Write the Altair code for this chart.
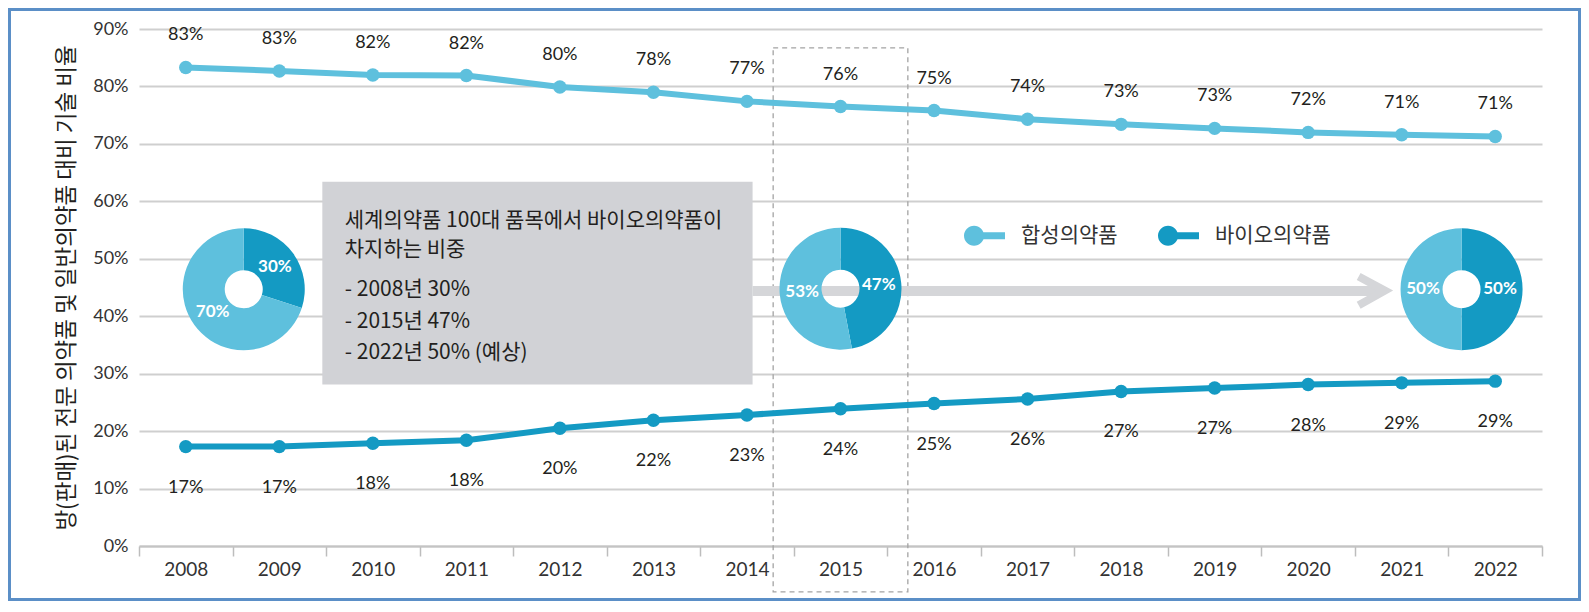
import math
import altair as alt
import pandas as pd

# ---------------- data ----------------
years = list(range(2008, 2023))
synthetic = [83.3, 82.7, 82.0, 81.9, 79.9, 79.0, 77.4, 76.5, 75.8, 74.3, 73.4, 72.7, 72.0, 71.6, 71.3]
bio = [17.3, 17.3, 17.9, 18.4, 20.5, 21.9, 22.8, 23.9, 24.8, 25.6, 26.9, 27.5, 28.1, 28.4, 28.7]
synthetic_labels = ["83%", "83%", "82%", "82%", "80%", "78%", "77%", "76%", "75%", "74%", "73%", "73%", "72%", "71%", "71%"]
bio_labels = ["17%", "17%", "18%", "18%", "20%", "22%", "23%", "24%", "25%", "26%", "27%", "27%", "28%", "29%", "29%"]
series_names = ["합성의약품", "바이오의약품"]
series_colors = ["#5EC0DD", "#149AC3"]

# donut charts: share of bio drugs among top-100 medicines
pie_names = ["2008", "2015", "2022"]
pie_center_year = [2008.62, 2015.0, 2021.64]
pie_center_value = [44.7, 44.8, 44.7]
pie_bio_share = [30, 47, 50]

# annotation box
box_lines = ["세계의약품 100대 품목에서 바이오의약품이", "차지하는 비중",
             "- 2008년 30%", "- 2015년 47%", "- 2022년 50% (예상)"]
box_line_value = [56.5, 51.6, 44.6, 39.0, 33.6]
box_text_year = 2009.7
box_year_range = [2009.46, 2014.06]
box_value_range = [63.4, 28.1]

arrow_year_range = [2014.06, 2020.77]
arrow_value = 44.4
chevron_year = [2020.54, 2020.82, 2020.54]
chevron_value = [46.9, 44.45, 41.9]

highlight_year_range = [2014.28, 2015.72]
highlight_value_range = [86.7, -8.0]

y_title = "방(판매)된 전문 의약품 및 일반의약품 대비 기술 비율"

# ---------------- layout ----------------
W, H = 1403, 517
PX_PER_YEAR = W / 15.0
PX_PER_PCT = H / 90.0
KFONT = "Noto Sans CJK KR"
NFONT = "Lato"
TEXT_COLOR = "#231F20"

x_scale = alt.Scale(domain=[2007.5, 2022.5], nice=False, zero=False)
y_scale = alt.Scale(domain=[0, 90], nice=False, zero=False)
color_scale = alt.Scale(domain=series_names, range=series_colors)

x_axis = alt.Axis(
    values=[2007.5 + i for i in range(16)],
    labelExpr="datum.value > 2022 ? '' : format(datum.value + 0.5, 'd')",
    labelOffset=PX_PER_YEAR / 2, labelFlush=False, labelOverlap=False,
    grid=False, domainColor="#C4C4C4", domainWidth=2,
    tickColor="#BDBDBD", tickSize=10, tickWidth=1.5,
    labelFont=NFONT, labelFontSize=19, labelColor="#333333", labelPadding=4,
    title=None,
)
y_axis = alt.Axis(
    values=list(range(0, 100, 10)), labelExpr="datum.value + '%'",
    grid=True, gridColor="#CFCFCF", gridWidth=2, domain=False, ticks=False,
    labelFont=NFONT, labelFontSize=18, labelColor="#333333", labelPadding=11,
    title=y_title, titleFont=KFONT, titleFontSize=22.5, titleFontWeight="normal",
    titleColor=TEXT_COLOR, titlePadding=14,
)

legend_path = ("M-1,0A0.49,0.49 0 1,1 -0.02,0A0.49,0.49 0 1,1 -1,0Z "
               "M-0.51,-0.17L1,-0.17L1,0.17L-0.51,0.17Z")
legend = alt.Legend(
    orient="none", legendX=825, legendY=186, direction="horizontal",
    title=None, symbolType=legend_path, symbolSize=1681, symbolStrokeWidth=0,
    labelFont=KFONT, labelFontSize=21, labelColor="#333333",
    labelOffset=16, columnPadding=40, padding=0,
)

# ---------------- tables ----------------
df_lines = pd.DataFrame({
    "year": years * 2,
    "value": synthetic + bio,
    "series": [series_names[0]] * len(years) + [series_names[1]] * len(years),
    "label": synthetic_labels + bio_labels,
})

pie_rows = []
for name, cx, cy, b in zip(pie_names, pie_center_year, pie_center_value, pie_bio_share):
    pie_rows.append({"pie": name, "cx": cx, "cy": cy, "series": series_names[1], "share": b, "order": 0})
    pie_rows.append({"pie": name, "cx": cx, "cy": cy, "series": series_names[0], "share": 100 - b, "order": 1})
df_pies = pd.DataFrame(pie_rows)

# pie labels at mid-angle of each slice
r_lab = 38.5
lab_rows = []
for name, cx, cy, b in zip(pie_names, pie_center_year, pie_center_value, pie_bio_share):
    for share, start in ((b, 0), (100 - b, b)):
        mid = (start + share / 2) * 3.6 * math.pi / 180
        lab_rows.append({
            "x": cx + r_lab * math.sin(mid) / PX_PER_YEAR,
            "y": cy + r_lab * math.cos(mid) / PX_PER_PCT,
            "text": f"{share}%",
        })
df_pie_labels = pd.DataFrame(lab_rows)

df_box = pd.DataFrame({"x": [box_year_range[0]], "x2": [box_year_range[1]],
                       "y": [box_value_range[0]], "y2": [box_value_range[1]]})
df_box_text = pd.DataFrame({"x": [box_text_year] * len(box_lines), "y": box_line_value, "text": box_lines})
df_arrow = pd.DataFrame({"x": [arrow_year_range[0]], "x2": [arrow_year_range[1]], "y": [arrow_value]})
df_chev = pd.DataFrame({"x": chevron_year, "y": chevron_value, "i": [0, 1, 2]})
df_hl = pd.DataFrame({"x": [highlight_year_range[0]], "x2": [highlight_year_range[1]],
                      "y": [highlight_value_range[0]], "y2": [highlight_value_range[1]]})


def X(field):
    return alt.X(field, type="quantitative", scale=x_scale, axis=x_axis)


def Y(field):
    return alt.Y(field, type="quantitative", scale=y_scale, axis=y_axis)


def C():
    return alt.Color("series:N", scale=color_scale, legend=legend)


# ---------------- layers ----------------
box = alt.Chart(df_box).mark_rect(color="#D1D2D6").encode(
    x=X("x"), x2="x2", y=Y("y"), y2="y2")

box_text = alt.Chart(df_box_text).mark_text(
    align="left", baseline="middle", font=KFONT, fontSize=21, color=TEXT_COLOR
).encode(x=X("x"), y=Y("y"), text="text:N")

arrow = alt.Chart(df_arrow).mark_rule(color="#D5D6D9", strokeWidth=10).encode(
    x=X("x"), x2="x2", y=Y("y"))

chevron = alt.Chart(df_chev).mark_line(color="#D5D6D9", strokeWidth=8, strokeJoin="miter").encode(
    x=X("x"), y=Y("y"), order="i:Q")

highlight = alt.Chart(df_hl).mark_rect(
    filled=False, stroke="#A3A3A3", strokeWidth=1.3, strokeDash=[5, 4]
).encode(x=X("x"), x2="x2", y=Y("y"), y2="y2")

lines = alt.Chart(df_lines).mark_line(strokeWidth=6).encode(
    x=X("year"), y=Y("value"), color=C())

points = alt.Chart(df_lines).mark_circle(size=180, opacity=1).encode(
    x=X("year"), y=Y("value"), color=C())

syn_labels = alt.Chart(df_lines).transform_filter(
    alt.datum.series == series_names[0]
).mark_text(dy=-32, font=NFONT, fontSize=18, color=TEXT_COLOR, baseline="middle").encode(
    x=X("year"), y=Y("value"), text="label:N")

bio_text = alt.Chart(df_lines).transform_filter(
    alt.datum.series == series_names[1]
).mark_text(dy=41, font=NFONT, fontSize=18, color=TEXT_COLOR, baseline="middle").encode(
    x=X("year"), y=Y("value"), text="label:N")

pies = alt.Chart(df_pies).transform_window(
    cum="sum(share)", groupby=["pie"], sort=[alt.SortField("order")], frame=[None, 0]
).transform_calculate(start="datum.cum - datum.share").mark_arc(
    outerRadius=61, innerRadius=19
).encode(
    x=X("cx"), y=Y("cy"),
    theta=alt.Theta("start:Q", scale=alt.Scale(domain=[0, 100], range=[0, 2 * math.pi])),
    theta2="cum:Q",
    color=C(),
)

pie_labels = alt.Chart(df_pie_labels).mark_text(
    font=NFONT, fontSize=17, fontWeight="bold", color="white", baseline="middle"
).encode(x=X("x"), y=Y("y"), text="text:N")

border = alt.Chart(pd.DataFrame({"a": [0]})).mark_rect(
    filled=False, stroke="#5B8FC7", strokeWidth=3
).encode(
    x=alt.value(-129.5), x2=alt.value(W + 37.5),
    y=alt.value(-19.5), y2=alt.value(H + 53.5),
)

chart = alt.layer(
    highlight, box, arrow, chevron, box_text,
    lines, points, syn_labels, bio_text, pies, pie_labels, border,
).properties(
    width=W, height=H,
    autosize=alt.AutoSizeParams(type="none"),
    padding={"left": 131, "top": 21, "right": 39, "bottom": 55},
    background="white",
).configure_view(stroke=None)

chart.save("out.html", embed_options={"renderer": "svg", "actions": False})
